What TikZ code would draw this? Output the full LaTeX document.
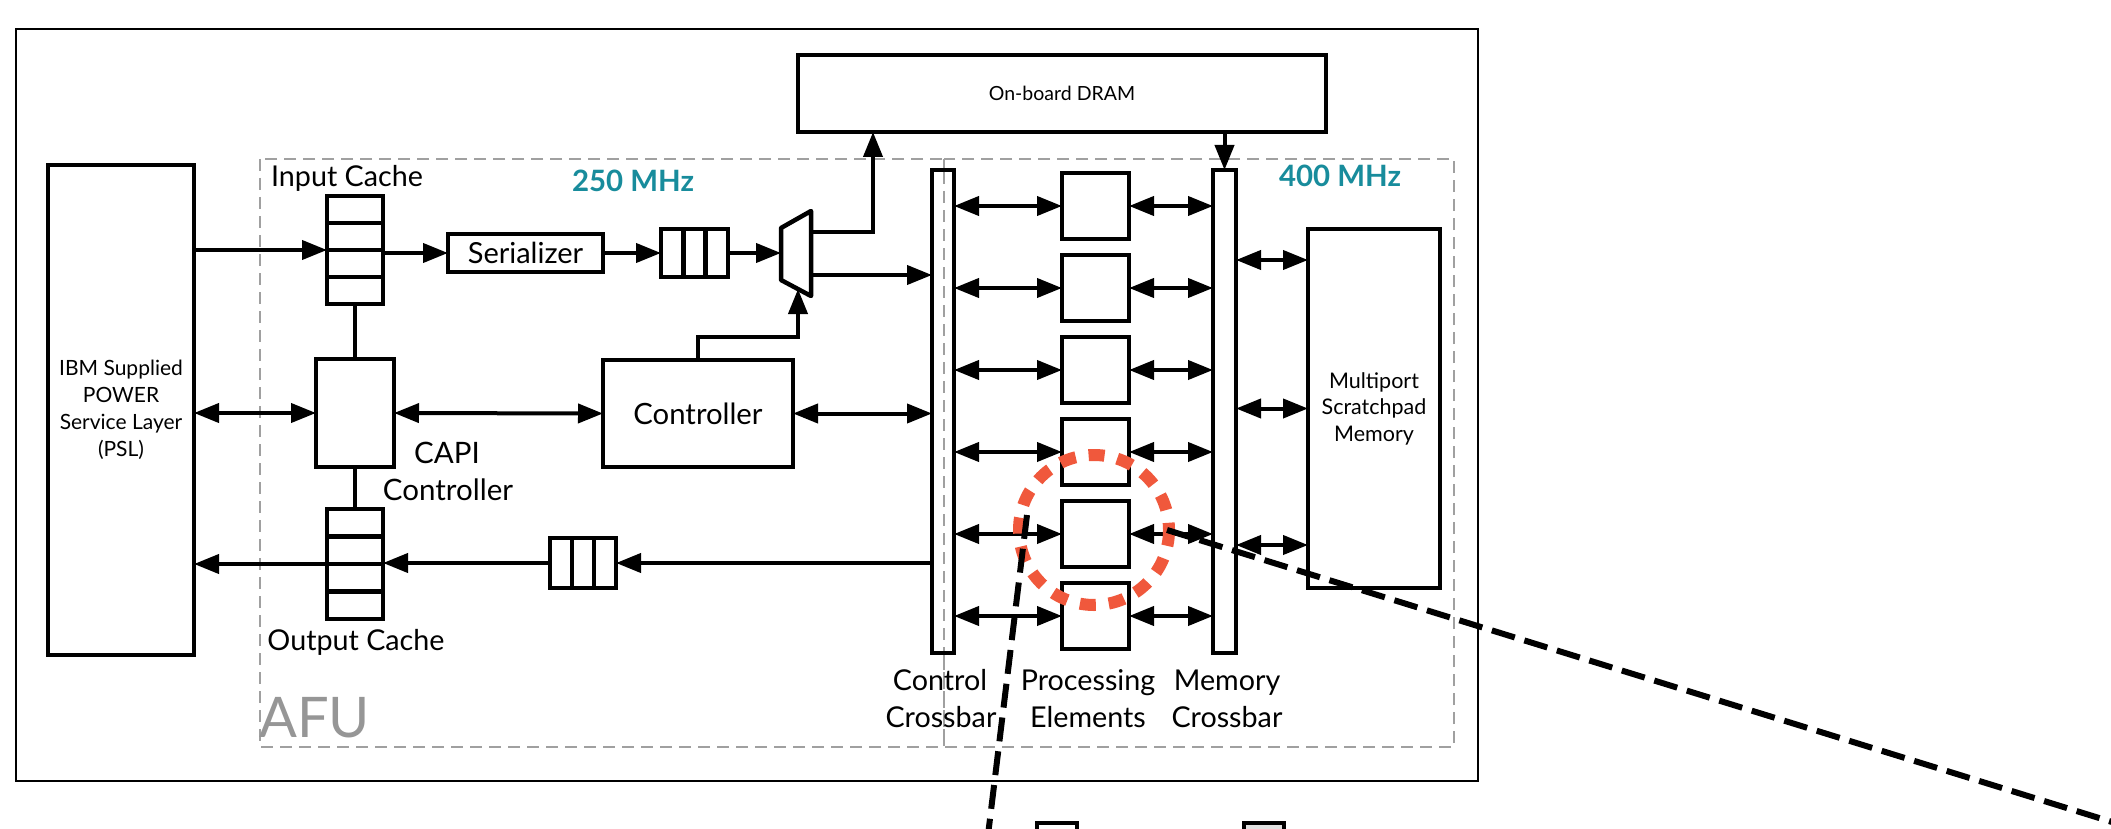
\documentclass[tikz,border=0pt]{standalone}
\usepackage{fontspec}
\setmainfont{Lato}
\usetikzlibrary{arrows.meta,calc,shadows}
\definecolor{mhzcol}{RGB}{24,140,156}
\definecolor{redc}{RGB}{240,88,60}
\definecolor{dashgray}{RGB}{160,160,160}
\definecolor{afugray}{RGB}{150,150,150}
\begin{document}
\begin{tikzpicture}[x=1pt,y=-1pt,
  box/.style={draw,line width=4.5pt,fill=white,inner sep=0pt,outer sep=0pt,
    drop shadow={shadow xshift=2pt,shadow yshift=-2pt,opacity=0.25}},
  arr/.style={line width=4pt,-{Triangle[length=25pt,width=19pt]}},
  darr/.style={line width=4pt,{Triangle[length=25pt,width=19pt]}-{Triangle[length=25pt,width=19pt]}},
  link/.style={line width=3.5pt},
  cell/.style={line width=4.5pt},
  lbl/.style={inner sep=0pt,font=\fontsize{28.7}{34}\selectfont},
  mhz/.style={inner sep=0pt,text=mhzcol,font=\fontsize{29.4}{34}\selectfont\bfseries},
  clkregion/.style={dashgray,line width=2pt,dash pattern=on 12pt off 7pt},
  zoomline/.style={line width=6pt,dash pattern=on 24pt off 10pt}
]
\useasboundingbox (0,0) rectangle (2111,829);
\fill[white] (0,0) rectangle (2111,829);

% outer frame and clock domains
\draw[line width=2.5pt] (16,29) rectangle (1478,781);
\draw[clkregion] (260,159) rectangle (944,747);
\draw[clkregion] (944,159) rectangle (1454,747);

% blocks
\node[box,minimum width=146pt,minimum height=490pt,align=center,
  font=\fontsize{21}{27}\selectfont] (psl) at (121,410)
  {IBM Supplied\\POWER\\Service Layer\\(PSL)};
\node[box,minimum width=56pt,minimum height=108pt] (ic) at (355,250) {};
\foreach \f in {0.25,0.5,0.75}
  \draw[cell] ($(ic.north west)!\f!(ic.south west)$) -- ($(ic.north east)!\f!(ic.south east)$);
\node[box,minimum width=155pt,minimum height=38pt,font=\fontsize{29}{34}\selectfont] (ser) at (525.5,253) {Serializer};
\node[box,minimum width=67pt,minimum height=48pt] (fa) at (694.5,253) {};
\foreach \f in {0.3333,0.6667}
  \draw[cell] ($(fa.north west)!\f!(fa.north east)$) -- ($(fa.south west)!\f!(fa.south east)$);
\draw[line width=4.5pt,fill=white,line join=round] (781,228) -- (811,211) -- (811,296) -- (781,280) -- cycle;
\coordinate (muxin) at (781,253);
\coordinate (muxo1) at (811,232);
\coordinate (muxo2) at (811,275);
\coordinate (muxb) at (798,289);

\node[box,minimum width=528pt,minimum height=77pt,font=\fontsize{19.5}{24}\selectfont] (dram) at (1062,93.5) {On-board DRAM};
\node[box,minimum width=190pt,minimum height=107pt,font=\fontsize{29.3}{34}\selectfont] (ctrl) at (698,413.5) {Controller};
\node[box,minimum width=78pt,minimum height=108pt] (capi) at (355,413) {};
\node[box,minimum width=56pt,minimum height=110pt] (oc) at (355,564) {};
\foreach \f in {0.25,0.5,0.75}
  \draw[cell] ($(oc.north west)!\f!(oc.south west)$) -- ($(oc.north east)!\f!(oc.south east)$);
\node[box,minimum width=66pt,minimum height=50pt] (fb) at (583,563) {};
\foreach \f in {0.3333,0.6667}
  \draw[cell] ($(fb.north west)!\f!(fb.north east)$) -- ($(fb.south west)!\f!(fb.south east)$);

\node[box,minimum width=22pt,minimum height=483pt] (cxb) at (943,411.5) {};
\draw[dashgray,line width=1.5pt,dash pattern=on 12pt off 7pt] (944,172) -- (944,651);
\node[box,minimum width=23pt,minimum height=483pt] (mxb) at (1224.5,411.5) {};
\foreach \i/\y in {1/206,2/288,3/370,4/452,5/534,6/616}
  \node[box,minimum width=67pt,minimum height=66pt] (pe\i) at (1095.5,\y) {};
\node[box,minimum width=132pt,minimum height=359pt,align=center,
  font=\fontsize{21.5}{26.5}\selectfont] (sp) at (1374,408.5) {Multiport\\Scratchpad\\Memory};

% connectors
\draw[arr] (psl.east |- ic) -- (ic.west);
\draw[arr] (ic.east |- ser) -- (ser.west);
\draw[arr] (ser.east) -- (fa.west);
\draw[arr] (fa.east) -- (muxin);
\draw[arr] (muxo1) -| ([xshift=-189pt]dram.south);
\draw[arr] (muxo2) -- (cxb.west |- muxo2);
\draw[arr] (ctrl.north) -- ++(0,-23) -| (muxb);
\draw[arr] (mxb.north |- dram.south) -- (mxb.north);
\draw[darr] (psl.east |- capi) -- (capi.west);
\draw[darr] (capi.east) -- (ctrl.west);
\draw[darr] (ctrl.east) -- (ctrl.east -| cxb.west);
\draw[link] (ic.south) -- (capi.north);
\draw[link] (capi.south) -- (oc.north);
\draw[arr] (cxb.west |- fb) -- (fb.east);
\draw[arr] (fb.west) -- (oc.east |- fb);
\draw[arr] (oc.west) -- (psl.east |- oc);
\foreach \i in {1,...,6}{
  \draw[darr] (cxb.east |- pe\i) -- (pe\i.west);
  \draw[darr] (pe\i.east) -- (mxb.west |- pe\i);
}
\draw[darr] ([yshift=148.5pt]mxb.east |- sp.west) -- ([yshift=148.5pt]sp.west);
\draw[darr] (mxb.east |- sp.west) -- (sp.west);
\draw[darr] ([yshift=-136.5pt]mxb.east |- sp.west) -- ([yshift=-136.5pt]sp.west);

% labels
\node[lbl,anchor=base] (iclbl) at (347,187) {Input Cache};
\node[lbl,anchor=base] (oclbl) at (356,650) {Output Cache};
\node[lbl,anchor=base,font=\fontsize{29.5}{34}\selectfont] (capilbl1) at (447,463) {CAPI};
\node[lbl,anchor=base,font=\fontsize{29.5}{34}\selectfont] (capilbl2) at (448,500) {Controller};
\node[mhz,anchor=base] (mhz1) at (633,192) {250 MHz};
\node[mhz,anchor=base] (mhz2) at (1340,187) {400 MHz};
\node[inner sep=0pt,anchor=base,text=afugray,font=\fontsize{56}{60}\selectfont] (afu) at (314.5,737) {AFU};
\node[lbl,anchor=base] (cxl1) at (940,690) {Control};
\node[lbl,anchor=base] (cxl2) at (941,727) {Crossbar};
\node[lbl,anchor=base] (pel1) at (1088,690) {Processing};
\node[lbl,anchor=base] (pel2) at (1088,727) {Elements};
\node[lbl,anchor=base] (mxl1) at (1227,690) {Memory};
\node[lbl,anchor=base] (mxl2) at (1227,727) {Crossbar};

% highlight and zoom lines
\draw[redc,line width=12pt,dash pattern=on 16pt off 13pt] (1094,530) circle[radius=75];
\draw[zoomline] (1027,515) -- (988,835);
\draw[zoomline] (1167,530) -- (2125,826);

% detail view (cut off)
\draw[line width=4.5pt,fill=white] (1037,823) rectangle (1077,860);
\draw[line width=4.5pt,fill=black!12] (1244,823) rectangle (1284,860);
\end{tikzpicture}
\end{document}
